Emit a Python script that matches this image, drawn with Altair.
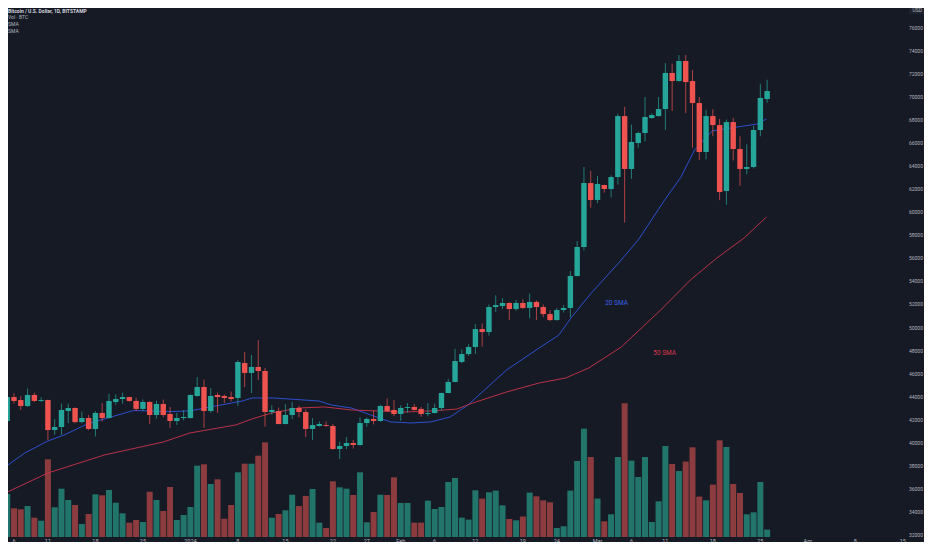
import altair as alt
import pandas as pd

# ---------------- data ----------------
dates = pd.date_range("2023-12-05", "2024-03-26", freq="D")

opens = [41890, 43970, 43710, 43190, 44150, 43630, 43710, 41110, 41370, 42760, 43020, 41800, 42150, 41200, 42590, 42150,
         43540, 43800, 43970, 43630, 42940, 43540, 42410, 43370, 42500, 41890, 42150,
         42150, 44060, 44840, 42760, 44150, 44060, 43970, 43890, 46920, 46060, 46580, 46230, 42670, 42760, 41630, 42410,
         43020, 42670, 41200, 41460, 41540, 41460, 39460, 39720, 39980, 39810, 41720, 42070, 41890, 43190, 42850,
         42500, 43020, 43110, 42940, 42500, 42580, 43020, 44320, 45280, 47010, 47700, 48310, 49870, 49610, 51780, 51870,
         52130, 51610, 52130, 51700, 52220, 51780, 51170, 50650, 51520, 51700, 54470, 56990, 62540,
         61070, 62370, 62020, 63060, 68350, 63760, 66010, 66880, 68180, 68350, 68960, 72090, 71390, 73130, 71390, 69480,
         65230, 68350, 67570, 61850, 67830, 65490, 63760, 63930, 67140, 69830]
highs = [44400, 44300, 44050, 44700, 44350, 43950, 43750, 42050, 43400, 43400, 43080, 42700, 42400, 42750, 43450, 44250,
         44200, 44350, 44000, 43900, 43750, 43600, 43650, 43750, 43100, 42600, 42850,
         44200, 45700, 45500, 44750, 44350, 44200, 44450, 47150, 47880, 47620, 48920, 46500, 43250, 43050, 43350, 43550,
         43200, 42900, 42150, 41850, 41850, 41650, 40100, 40500, 40250, 42200, 42200, 42800, 43300, 43850, 43700,
         43250, 43450, 43350, 43100, 43450, 43400, 44350, 45550, 48150, 48100, 48550, 50300, 50350, 52000, 52800, 52550,
         52200, 52400, 52450, 52950, 52350, 52000, 51500, 51700, 51950, 54900, 57500, 63930, 63600,
         63150, 62400, 63200, 68550, 69150, 67600, 67000, 70000, 68600, 70000, 72950, 72900, 73650, 73650, 72350, 70000,
         68900, 68950, 68100, 68050, 68200, 66600, 65900, 67500, 71150, 71500]
lows = [41400, 43400, 42850, 43100, 43550, 43550, 40250, 40700, 40700, 41700, 41700, 41700, 41100, 40550, 41850, 42100,
        43300, 43400, 43550, 42750, 42750, 41650, 42100, 42250, 41300, 41550, 41950,
        42100, 44000, 41300, 42600, 42600, 43450, 43600, 43200, 44840, 44320, 45450, 41400, 42450, 41600, 41600, 42050,
        42200, 40500, 40250, 41400, 41400, 39400, 38600, 39450, 39500, 39750, 41400, 41600, 41800, 42700, 42300,
        41900, 42600, 42800, 42250, 42300, 42550, 42800, 44300, 45250, 46900, 47550, 47700, 48350, 49300, 51350, 51600,
        50650, 51450, 51600, 50800, 50650, 50900, 50550, 50600, 51300, 50900, 54450, 56700, 60400,
        60800, 61700, 61300, 62400, 59100, 62900, 65600, 66150, 68100, 68300, 67150, 68800, 71350, 68600, 65600, 64550,
        64600, 66600, 61050, 60650, 64500, 62300, 63300, 63800, 66600, 69500]
closes = [43970, 43630, 43190, 44150, 43630, 43710, 41110, 41370, 42850, 43020, 41800, 42150, 41200, 42590, 42150, 43630,
          43800, 43970, 43630, 42940, 43540, 42410, 43370, 42410, 41890, 42150, 42240,
          44150, 44840, 42760, 44060, 43970, 43890, 43800, 47010, 46060, 46580, 46230, 42670, 42850, 41630, 42410, 43020,
          42670, 41200, 41540, 41630, 41460, 39460, 39720, 39980, 39810, 41720, 42070, 41890, 43190, 42760, 42500,
          43020, 43100, 42850, 42500, 42580, 43020, 44320, 45280, 47100, 47700, 48310, 49870, 49610, 51780, 51950, 52130,
          51610, 52130, 51700, 52220, 51780, 51170, 50650, 51520, 51700, 54470, 56990, 62540, 61070,
          62460, 62020, 63060, 68350, 63760, 66100, 66880, 68270, 68440, 68960, 72090, 71390, 73130, 71300, 69480, 65230,
          68350, 67570, 61760, 67830, 65490, 63760, 63930, 67140, 69920, 70520]
volumes = [4300, 2870, 2770, 3100, 1930, 1630, 7770, 2970, 4830, 3700, 3200, 1300, 2300, 4270, 4170, 4700,
           3430, 2370, 1430, 1700, 1500, 4530, 3700, 2600, 5000, 1700, 2200,
           3000, 7130, 7270, 5300, 5770, 1830, 3200, 6470, 7330, 7330, 8130, 9470, 1930, 2300, 2670, 4230,
           3100, 4100, 4800, 1430, 900, 5570, 4970, 4830, 4200, 6470, 1470, 2500, 4230, 4200, 5970,
           3400, 3400, 1440, 1440, 3640, 2800, 3000, 5500, 5900, 1940, 1740, 4670, 3840, 4470, 4640, 3170,
           1800, 1670, 2040, 4440, 4070, 3670, 3470, 900, 1070, 4640, 7600, 10840, 8000,
           3840, 1570, 2270, 8000, 13370, 7640, 6000, 8000, 1500, 3570, 9100, 7300, 6600, 7540, 8970, 4040,
           3670, 5240, 9670, 9000, 5300, 4400, 2270, 2470, 5500, 740]

# moving averages (days after 2023-12-06, price)
sma20_day = [-1.3, 1.6, 5.0, 7.4, 10.8, 13.3, 17.6, 23.0, 26.0, 29.7, 33.7, 35.1, 38.1, 44.9, 46.8, 49.7, 52.6,
             55.5, 58.5, 61.4, 64.3, 66.9, 72.6, 77.4, 80.3, 82.2, 85.1, 89.1, 92.0, 95.9, 98.3, 100.3, 102.9,
             104.7, 107.6, 109.5, 110.9]
sma20_price = [37900, 39120, 40160, 40680, 41630, 42070, 42800, 42700, 42780, 43190, 43630, 43890, 43890, 43630,
               43280, 43020, 42410, 41810, 41720, 41810, 42240, 43280, 46320, 48230, 49350, 50920, 53000, 55600,
               57600, 61070, 63060, 65410, 67060, 67230, 67490, 67660, 68100]
sma50_day = [-1.3, 5.0, 13.3, 22.0, 25.9, 32.7, 35.1, 38.0, 42.0, 45.8, 49.7, 53.6, 57.4, 61.4, 65.3, 67.6, 72.6,
             77.4, 81.3, 84.7, 89.5, 95.3, 99.7, 103.6, 107.6, 110.9]
sma50_price = [35640, 37380, 38940, 40070, 40850, 41550, 42070, 42590, 43020, 43110, 42850, 42760, 42670, 42760,
               42930, 43450, 44410, 45190, 45620, 46490, 48310, 51520, 54130, 56040, 57770, 59590]

sma_label_text = ["20 SMA", "50 SMA"]
sma_label_day = [88.8, 95.9]
sma_label_price = [52130, 47790]

tick_dates = ["2023-12-06", "2023-12-11", "2023-12-18", "2023-12-25", "2024-01-01", "2024-01-08", "2024-01-15",
              "2024-01-22", "2024-01-27", "2024-02-01", "2024-02-06", "2024-02-12", "2024-02-19", "2024-02-24",
              "2024-03-01", "2024-03-06", "2024-03-11", "2024-03-18", "2024-03-25", "2024-04-01", "2024-04-08",
              "2024-04-15"]
tick_labels = ["6", "11", "18", "25", "2024", "8", "15", "22", "27", "Feb", "6", "12", "19", "24", "Mar", "6",
               "11", "18", "25", "Apr", "8", "15"]
price_ticks = list(range(32000, 76001, 2000))

legend_lines = ["Bitcoin / U.S. Dollar, 1D, BITSTAMP", "Vol · BTC", "SMA", "SMA"]
currency = "USD"

# ---------------- tables ----------------
day0 = pd.Timestamp("2023-12-06")
df = pd.DataFrame({
    "date": dates.strftime("%Y-%m-%d"),
    "day": [(d - day0).days for d in dates],
    "open": opens, "high": highs, "low": lows, "close": closes, "volume": volumes,
})
df["dir"] = ["up" if c >= o else "down" for o, c in zip(opens, closes)]
sma20 = pd.DataFrame({"day": sma20_day, "price": sma20_price})
sma50 = pd.DataFrame({"day": sma50_day, "price": sma50_price})
labels = pd.DataFrame({"t": sma_label_text, "day": sma_label_day, "price": sma_label_price})
tick_days = [(pd.Timestamp(t) - day0).days for t in tick_dates]
tick_df = pd.DataFrame({"day": tick_days, "lab": tick_labels})
price_df = pd.DataFrame({"price": price_ticks, "lab": [str(p) for p in price_ticks]})

# ---------------- layout ----------------
W, H = 916, 529
PX_DAY = 6.86
XMIN = -1 / PX_DAY
XMAX = XMIN + W / PX_DAY
BG = "#161a25"
TXT = "#b2b5be"
UP, DOWN = "#26a69a", "#ef5350"
FONT = "Roboto"

xscale = alt.Scale(domain=[XMIN, XMAX], nice=False, zero=False)
pscale = alt.Scale(domain=[31826, 77727], nice=False, zero=False)
X = alt.X("day:Q", scale=xscale, axis=None)
color = alt.Color("dir:N", scale=alt.Scale(domain=["up", "down"], range=[UP, DOWN]), legend=None)
vcolor = alt.Color("dir:N", scale=alt.Scale(domain=["up", "down"], range=["#22756b", "#8c3b3f"]), legend=None)

vol = alt.Chart(df).mark_bar(size=6, clip=True).encode(
    x=X,
    y=alt.Y("volume:Q", scale=alt.Scale(domain=[0, 52900], nice=False), axis=None),
    color=vcolor,
)

line20 = alt.Chart(sma20).mark_line(color="#2f55e0", strokeWidth=0.9, clip=True).encode(
    x=X, y=alt.Y("price:Q", scale=pscale, axis=None))
line50 = alt.Chart(sma50).mark_line(color="#c9344a", strokeWidth=0.9, clip=True).encode(
    x=X, y=alt.Y("price:Q", scale=pscale, axis=None))

wicks = alt.Chart(df).mark_rule(strokeWidth=0.7, clip=True).encode(
    x=X, y=alt.Y("low:Q", scale=pscale, axis=None), y2="high:Q", color=color)

bodies = alt.Chart(df).mark_bar(size=5.4, clip=True).encode(
    x=X, y=alt.Y("open:Q", scale=pscale, axis=None), y2="close:Q", color=color)

sma_colors = ["#3a62e8", "#d8394c"]
sma_texts = [
    alt.Chart(labels.iloc[[i]]).mark_text(fontSize=6.5, font=FONT, color=sma_colors[i]).encode(
        x=X, y=alt.Y("price:Q", scale=pscale, axis=None), text="t:N")
    for i in range(len(sma_label_text))
]

# time axis labels (drawn below the plot area)
x_labels = alt.Chart(tick_df).mark_text(fontSize=5.5, font=FONT, color=TXT, baseline="middle").encode(
    x=X, y=alt.value(H + 3.5), text="lab:N")
# price axis labels (right edge)
y_labels = alt.Chart(price_df).mark_text(fontSize=5, font=FONT, color=TXT, align="right",
                                         baseline="middle").encode(
    x=alt.value(W - 1), y=alt.Y("price:Q", scale=pscale, axis=None), text="lab:N")

legend_layers = []
for i, (txt, ycen) in enumerate(zip(legend_lines, [2.8, 9.3, 16.3, 23.3])):
    legend_layers.append(
        alt.Chart(pd.DataFrame({"t": [txt]})).mark_text(
            align="left", baseline="middle", fontSize=5, font=FONT,
            fontWeight="bold" if i == 0 else "normal",
            color="#d1d4dc" if i == 0 else TXT).encode(
            x=alt.value(0), y=alt.value(ycen), text="t:N"))

usd_box = alt.Chart(pd.DataFrame({"t": [currency]})).mark_rect(color="#1f2330").encode(
    x=alt.value(901), x2=alt.value(916), y=alt.value(-1), y2=alt.value(6))
usd_text = alt.Chart(pd.DataFrame({"t": [currency]})).mark_text(
    align="right", baseline="middle", fontSize=5, font=FONT, color=TXT).encode(
    x=alt.value(914), y=alt.value(2), text="t:N")

price_layer = alt.layer(line20, line50, wicks, bodies, *sma_texts, y_labels)
chart = alt.layer(vol, price_layer, x_labels, *legend_layers, usd_box, usd_text).resolve_scale(
    y="independent", color="independent").properties(
    width=W, height=H, autosize=alt.AutoSizeParams(type="none"),
    padding={"left": 0, "top": 0, "right": 0, "bottom": 5},
).configure(background=BG, font=FONT).configure_view(stroke=None)

chart.save("out.html", embed_options={"renderer": "svg", "actions": False})
